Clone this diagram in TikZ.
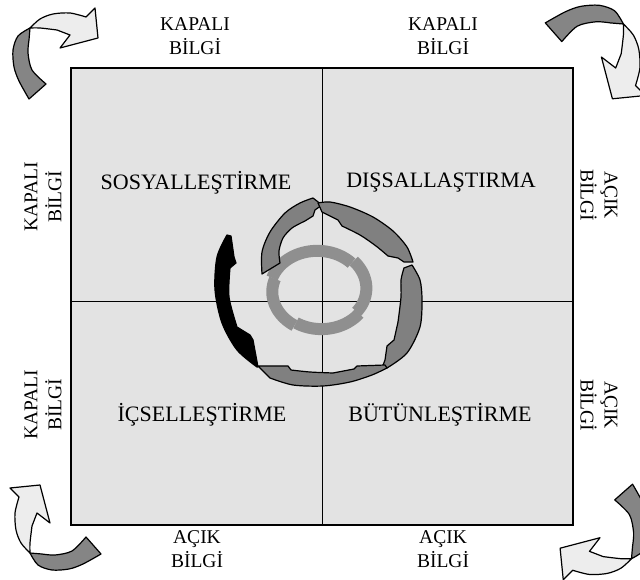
\documentclass[tikz,border=0pt]{standalone}
\usepackage{fontspec}
\setmainfont{Liberation Serif}

\begin{document}
\begin{tikzpicture}[x=1pt, y=1pt,
    edgelabel/.style={align=center, inner sep=0pt, font=\fontsize{19.5}{24}\selectfont},
    quadlabel/.style={inner sep=0pt, font=\fontsize{22}{26}\selectfont},
    spiralseg/.style={fill=black!50, draw=black, line width=1.2pt, line join=round},
    ringseg/.style={draw=black!44, line width=12pt},
    tailpart/.style={fill=black!48, draw=black, line width=1.2pt, line join=round},
    headpart/.style={fill=black!7, draw=black, line width=1.2pt, line join=round}]

        \useasboundingbox (0,0) rectangle (640,579);

        % Square and quadrants
        \filldraw[fill=black!11, draw=black, line width=1.8pt] (71,54) rectangle (573,511);
        \draw[line width=0.8pt] (322,54) -- (322,511);
        \draw[line width=0.8pt] (71,278) -- (573,278);

        % Quadrant names
        \node[quadlabel] (sos) at (196,396) {SOSYALLEŞTİRME};
        \node[quadlabel] (dis) at (441,396) {DIŞSALLAŞTIRMA};
        \node[quadlabel] (ics) at (202,164) {İÇSELLEŞTİRME};
        \node[quadlabel] (but) at (440,164) {BÜTÜNLEŞTİRME};

        % Edge labels
        \node[edgelabel] (top1) at (195,543) {KAPALI\\BİLGİ};
        \node[edgelabel] (top2) at (443,543) {KAPALI\\BİLGİ};
        \node[edgelabel] (bot1) at (197,30) {AÇIK\\BİLGİ};
        \node[edgelabel] (bot2) at (443,30) {AÇIK\\BİLGİ};
        \node[edgelabel, rotate=90] (lft1) at (43,382) {KAPALI\\BİLGİ};
        \node[edgelabel, rotate=90] (lft2) at (43,174) {KAPALI\\BİLGİ};
        \node[edgelabel, rotate=-90] (rgt1) at (599,384) {AÇIK\\BİLGİ};
        \node[edgelabel, rotate=-90] (rgt2) at (599,174) {AÇIK\\BİLGİ};

        % Inner ring
        \foreach \a/\b in {163/45, 45/-35, -35/-120, -120/-197}
          \draw[ringseg] plot[domain=\a:\b, samples=30]
            ({319+(49-3*(\a-\x)/(\a-\b))*cos(\x)}, {289+(41-3*(\a-\x)/(\a-\b))*sin(\x)});

        % Outer spiral
        \filldraw[spiralseg] plot[smooth] coordinates {(262,305) (262,327) (270,347) (285,366) (300,376) (313,381)}
          -- (322,374) -- (315,369) -- (313,363)
          -- plot[smooth] coordinates {(305,358) (292,351) (283,341) (279,328) (280,316)} -- cycle;
        \filldraw[spiralseg] plot[smooth] coordinates {(318,376) (330,377) (350,372) (373,362) (393,348) (407,332) (413,317)}
          -- (404,317) -- (398,321)
          -- plot[smooth] coordinates {(388,323) (376,333) (360,344) (342,353)} -- (338,359) -- (322,367) -- cycle;
        \filldraw[spiralseg] plot[smooth] coordinates {(412,314) (420,299) (422,279) (420,252) (407,226) (387,211)}
          -- (382,211) -- (385,219) -- (387,233) -- (394,239)
          -- plot[smooth] coordinates {(398,257) (401,282) (401,299) (404,311)} -- cycle;
        \filldraw[spiralseg] (385,214) -- (357,213) -- (354,210)
          -- plot[smooth] coordinates {(333,206) (310,207) (291,209)} -- (288,213) -- (258,213)
          -- plot[smooth] coordinates {(270,201) (293,194) (323,193) (350,197) (372,204) (387,211)} -- cycle;
        \filldraw[spiralseg, fill=black] plot[smooth] coordinates {(257,212) (237,229) (222,256) (215,289) (217,322) (227,344)}
          -- (231,343) -- (234,322) -- (236,316)
          -- plot[smooth] coordinates {(230,311) (229,282) (237,252)} -- (250,244) -- (253,239) -- (258,212) -- cycle;

        % Corner arrows
        \foreach \cx/\cy/\ang/\sc in {60/517/0/1, 586/522/-90/1.1, 600/56/-180/1.05, 64/56/-270/1}
        {
          \begin{scope}[shift={(\cx,\cy)}, rotate=\ang, scale=\sc]
            \filldraw[tailpart] plot[smooth] coordinates {(-31,-37) (-41,-19) (-46,-5) (-47,12) (-42,26) (-30,34)}
              -- plot[smooth] coordinates {(-31,22) (-32,9) (-28,-8) (-14,-22)} -- cycle;
            \filldraw[headpart] plot[smooth] coordinates {(-30,34) (-20,43) (-7,48) (10,49) (26,45)}
              -- (35,54) -- (38,24) -- (0,14) -- (10,27)
              -- plot[smooth] coordinates {(-3,32) (-20,34) (-30,34)} -- cycle;
          \end{scope}
        }

\end{tikzpicture}
\end{document}
